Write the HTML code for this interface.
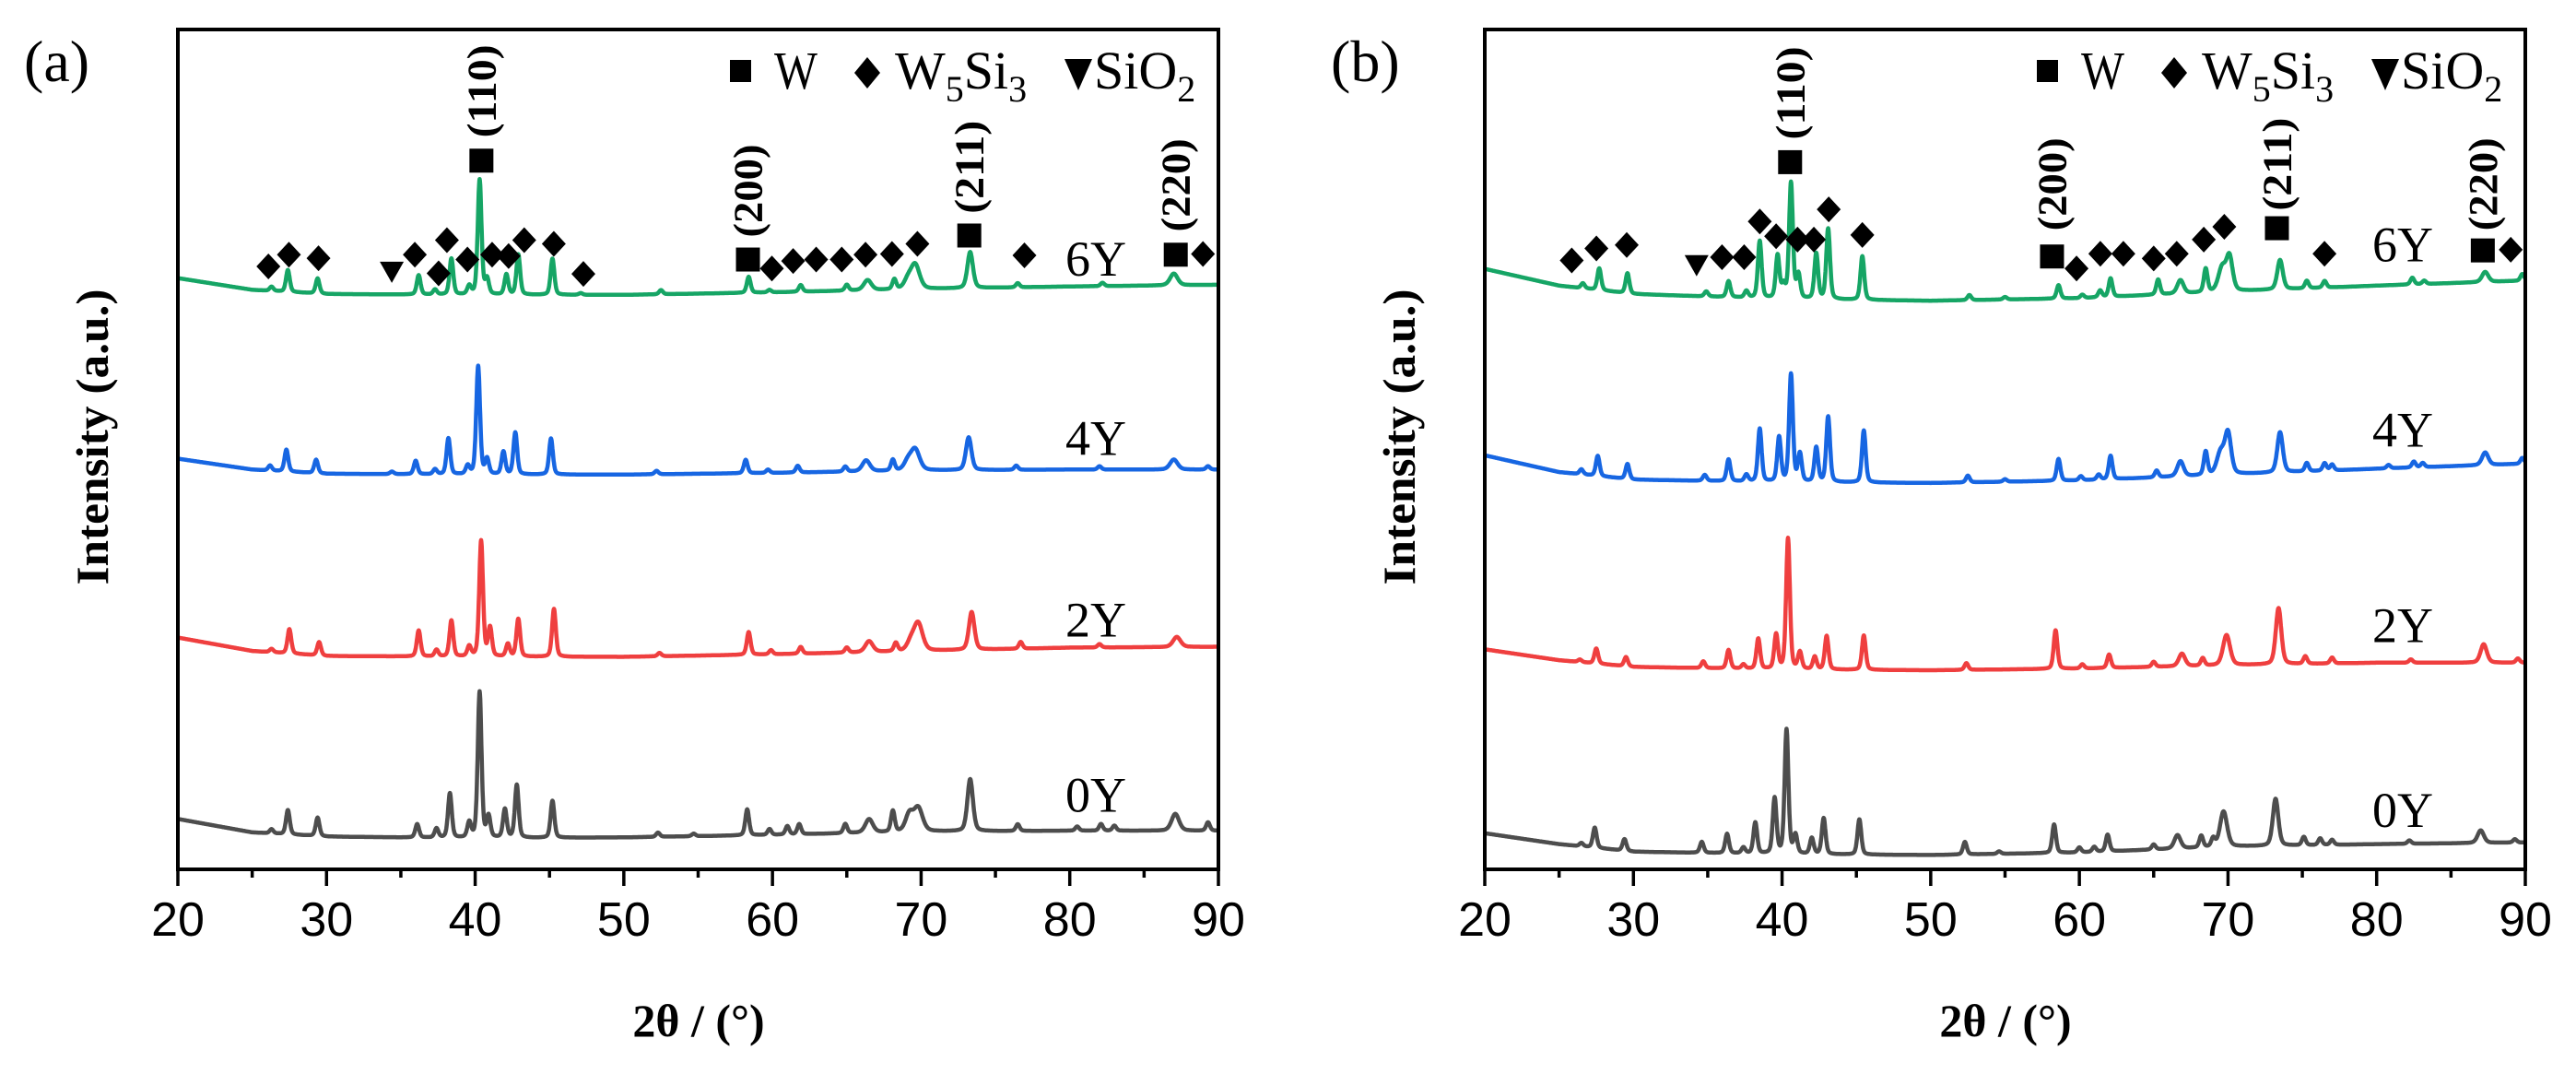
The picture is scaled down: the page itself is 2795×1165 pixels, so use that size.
<!DOCTYPE html>
<html><head><meta charset="utf-8"><style>
html,body{margin:0;padding:0;background:#fff;}
svg{display:block;}
text{font-family:"Liberation Serif",serif;}
.tick{font-family:"Liberation Sans",sans-serif;font-size:52px;}
</style></head><body>
<svg id="fig" width="2795" height="1165" viewBox="0 0 2795 1165"></svg>
<script>
// ---- data ----
const xTicks = [20,30,40,50,60,70,80,90];
const xMinor = [25,35,45,55,65,75,85];
const seriesNames = ["0Y","2Y","4Y","6Y"];
const seriesColors = ["#4d4d4d","#ef3f3f","#1766e2","#16a565"];
const baseX = [20,25,30,40,50,60,70,80,90];
// panel a baselines
const baseA0 = [6.0,4.4,3.9,3.7,3.8,4.1,4.5,4.6,4.6];
const baseA2 = [27.6,26.0,25.4,25.3,25.3,25.6,26.0,26.4,26.5];
const baseA4 = [48.9,47.6,47.1,47.0,47.0,47.2,47.5,47.6,47.6];
const baseA6 = [70.4,69.0,68.5,68.4,68.4,68.7,69.1,69.4,69.6];
// panel b baselines
const baseB0 = [4.3,3.0,2.1,1.8,1.7,2.0,2.7,3.0,3.2];
const baseB2 = [26.2,24.9,24.1,23.8,23.7,23.9,24.3,24.6,24.6];
const baseB4 = [49.3,47.3,46.4,46.1,46.0,46.3,47.0,47.7,48.3];
const baseB6 = [71.5,69.5,68.5,67.9,67.7,68.0,68.8,69.5,70.1];
// peaks [2theta, height, hwhm]
const peaksA0 = [[26.3,0.5],[27.4,2.9],[29.4,2.2],[36.1,1.6],[37.4,1.1],[38.3,5.3],[39.6,1.8],[40.3,17.4],[40.9,2.5],[42.0,3.4],[42.8,6.3],[45.2,4.4],[52.3,0.5],[54.7,0.3],[58.3,3.1],[59.8,0.7],[61.0,1.0],[61.8,1.2],[64.9,1.1],[66.5,1.6,0.3],[68.1,2.5],[69.2,2.0,0.3],[69.8,2.8,0.35],[73.3,6.2,0.22],[76.5,0.8],[80.5,0.5],[82.1,0.8],[83.0,0.6],[87.1,2.0,0.3],[89.3,1.0]];
const peaksA2 = [[26.3,0.4],[27.5,2.9],[29.5,1.6],[36.2,3.1],[37.4,0.8],[38.4,4.3],[39.6,1.2],[40.4,13.8],[41.0,3.4],[42.2,1.5],[42.9,4.5],[45.3,5.7],[52.4,0.4],[58.4,2.7],[59.9,0.5],[61.9,0.8],[65.0,0.6],[66.5,1.3,0.3],[68.3,1.0],[69.3,1.0,0.3],[69.8,3.3,0.35],[73.4,4.5,0.22],[76.7,0.8],[82.0,0.4],[87.2,1.2,0.3]];
const peaksA4 = [[26.2,0.6],[27.3,2.6],[29.3,1.6],[34.4,0.3],[36.0,1.6],[37.3,0.6],[38.2,4.3],[39.5,1.0],[40.2,12.9],[40.8,1.8],[41.9,2.7],[42.7,5.0],[45.1,4.3],[52.2,0.4],[58.2,1.6],[59.7,0.4],[61.7,0.8],[64.9,0.6],[66.3,1.3,0.3],[68.1,1.3],[69.1,1.0,0.3],[69.6,2.5,0.35],[73.2,3.9,0.22],[76.4,0.5],[82.0,0.4],[87.0,1.2,0.3],[89.3,0.4]];
const peaksA6 = [[26.3,0.5],[27.4,2.6],[29.4,1.8],[36.2,2.3],[37.3,0.6],[38.4,4.3],[39.6,1.0],[40.3,13.7],[40.8,1.8],[42.1,2.4],[42.9,4.8],[45.2,4.3],[47.1,0.2],[52.5,0.5],[58.4,1.9],[59.8,0.3],[61.9,0.8],[65.0,0.7],[66.4,1.2,0.3],[68.2,1.2],[69.1,1.0,0.3],[69.6,2.9,0.35],[73.3,4.3,0.22],[76.5,0.5],[82.2,0.4],[87.0,1.4,0.3]];
const peaksB0 = [[26.5,0.4],[27.4,2.4],[29.4,1.4],[34.6,1.3],[36.3,2.3],[37.4,0.7],[38.2,3.7],[39.5,6.6],[40.3,14.8],[40.9,2.2],[42.0,1.9],[42.8,4.3],[45.2,4.2],[52.3,1.5],[54.6,0.3],[58.3,3.4],[60.0,0.6],[61.0,0.6],[61.9,2.0],[65.0,0.6],[66.6,1.6,0.25],[68.2,1.4],[69.0,1.0],[69.7,4.2,0.28],[73.2,5.6,0.22],[75.1,1.0],[76.2,0.8],[77.0,0.6],[82.2,0.4],[87.0,1.5,0.25],[89.3,0.4]];
const peaksB2 = [[26.4,0.3],[27.5,1.8],[29.5,1.1],[34.7,0.8],[36.4,2.2],[37.4,0.5],[38.4,3.6],[39.6,4.1],[40.4,15.6],[41.2,2.0],[42.2,1.5],[43.0,4.0],[45.5,4.1],[52.4,0.8],[58.4,4.6],[60.2,0.5],[62.0,1.6],[65.0,0.6],[66.9,1.5,0.25],[68.3,0.9],[69.9,3.6,0.28],[73.4,6.7,0.22],[75.2,0.9],[77.0,0.7],[82.3,0.4],[87.2,2.2,0.25],[89.5,0.5]];
const peaksB4 = [[26.5,0.6],[27.6,2.4],[29.6,1.8],[34.8,0.7],[36.4,2.6],[37.6,0.8],[38.5,6.3],[39.8,5.3],[40.6,12.8],[41.2,3.3],[42.3,4.1],[43.1,7.8],[45.5,6.2],[52.5,0.8],[55.0,0.3],[58.6,2.6],[60.1,0.5],[61.3,0.6],[62.1,2.8],[65.2,0.8],[66.8,1.8,0.25],[68.5,2.8],[69.5,2.6,0.3],[70.0,4.8,0.25],[73.5,4.8,0.22],[75.3,1.0],[76.5,0.9],[77.0,0.7],[80.8,0.4],[82.5,0.7],[83.1,0.5],[87.3,1.5,0.25],[89.8,0.7]];
const peaksB6 = [[26.6,0.6],[27.7,2.6],[29.6,2.4],[34.9,0.6],[36.4,1.9],[37.6,0.8],[38.5,6.8],[39.7,5.1],[40.1,1.5],[40.6,13.8],[41.1,2.8],[42.3,5.4],[43.1,8.4],[45.4,5.2],[52.6,0.6],[55.0,0.3],[58.6,1.6],[60.2,0.4],[61.4,0.8],[62.1,2.2],[65.3,1.8],[66.8,1.6,0.25],[68.5,2.8],[69.6,2.8,0.3],[70.1,4.0,0.25],[73.5,3.5,0.22],[75.3,0.9],[76.5,0.8],[82.4,0.8],[83.2,0.4],[87.3,1.2,0.25],[89.8,0.8]];
// phase marker positions (2theta) and heights (pixel rows, pre-correction)
const diamondsAx = [26.09,27.47,29.46,35.94,37.54,38.10,39.48,41.14,42.25,43.30,45.29,47.28,59.96,61.39,62.94,64.66,66.26,68.04,69.75,76.95,88.96];
const diamondsAy = [285.6,273.3,277,273.3,292.9,258,278.4,273.3,274.7,258,261.8,293.6,287.8,279.9,278.4,278.4,273.3,272.6,261.8,274,272.6];
const trianglesA = [[34.39,291.4]];
const squaresA = [[40.42,174.2,"(110)",101],[58.35,278.4,"(200)",206],[73.24,253.1,"(211)",181],[87.13,273.3,"(220)",200]];
const diamondsBx = [25.85,27.51,29.55,35.96,37.45,38.50,39.60,41.04,42.14,43.14,45.40,59.81,61.41,62.96,65.00,66.55,68.37,69.75,76.49,89.02];
const diamondsBy = [279.4,266.7,263.1,275.9,275.9,238.3,253.9,257.4,257.4,225.5,252.5,287.9,272.3,272.3,277.3,272.3,257.4,243.9,272.3,268.1];
const trianglesB = [[34.25,284.4]];
const squaresB = [[40.54,175.8,"(110)",103],[58.16,275.2,"(200)",199],[73.29,245.4,"(211)",178],[87.14,268.8,"(220)",199]];
const labelYA = [843,658,467,278];
const labelYB = [859,664,458,263];

// ---- drawing ----
const NS="http://www.w3.org/2000/svg";
const svg=document.getElementById('fig');
function mk(tag,attrs,parent){const e=document.createElementNS(NS,tag);for(const k in attrs)e.setAttribute(k,attrs[k]);(parent||svg).appendChild(e);return e;}
const TOP=32,BOT=943,W=1129;
const fixY=y=>32+(y-36)*1.0294;
function interp(xs,ys,x){for(let i=0;i<xs.length-1;i++){if(x<=xs[i+1]){const t=(x-xs[i])/(xs[i+1]-xs[i]);return ys[i]+t*(ys[i+1]-ys[i]);}}return ys[ys.length-1];}
function intensity(x,base,peaks){let v=interp(baseX,base,x);for(const p of peaks){const w=p[2]||0.15;const d=(x-p[0])/w;v+=p[1]*(0.65*Math.exp(-0.693*d*d)+0.35/(1+d*d));}return v;}

function panel(ox,letter,bases,peaks,dx,dy,tris,sqs,labelY){
  const g=mk('g',{});
  
  
  const xs=x=>ox+(x-20)/70*W;
  const ys=v=>BOT-v/100*(BOT-TOP);
  for(let s=0;s<4;s++){
    let d='';
    for(let i=0;i<=3500;i++){const x=20+i*0.02;const v=intensity(x,bases[s],peaks[s]);d+=(i?'L':'M')+xs(x).toFixed(1)+','+ys(v).toFixed(1);}
    const p=mk('path',{d:d,fill:'none',stroke:seriesColors[s],'stroke-width':4.5,'stroke-linejoin':'round'},g);
    
    
    const t=mk('text',{x:ox+963,y:fixY(labelY[s])+18,'font-size':54},g);
    t.textContent=seriesNames[s];
    
    
  }
  const fr=mk('rect',{x:ox,y:TOP,width:W,height:BOT-TOP,fill:'none',stroke:'#000','stroke-width':4},g);
  
  
  for(const t of xTicks){
    mk('line',{x1:xs(t),x2:xs(t),y1:BOT,y2:BOT+18,stroke:'#000','stroke-width':3.5},g);
    const tx=mk('text',{x:xs(t),y:1015,'text-anchor':'middle',class:'tick'},g);
    tx.textContent=t;
    
    
  }
  for(const t of xMinor){mk('line',{x1:xs(t),x2:xs(t),y1:BOT,y2:BOT+9,stroke:'#000','stroke-width':3.5},g);}
  for(let i=0;i<dx.length;i++){
    const cx=xs(dx[i]),cy=fixY(dy[i]);
    const m=mk('polygon',{points:`${cx},${cy-14} ${cx+13},${cy} ${cx},${cy+14} ${cx-13},${cy}`,fill:'#000'},g);
    
    
  }
  for(const t of tris){
    const cx=xs(t[0]),cy=fixY(t[1]);
    const m=mk('polygon',{points:`${cx-13},${cy-11} ${cx+13},${cy-11} ${cx},${cy+12}`,fill:'#000'},g);
    
    
  }
  for(const q of sqs){
    const cx=xs(q[0]),cy=fixY(q[1]);
    const m=mk('rect',{x:cx-13,y:cy-13,width:26,height:26,fill:'#000'},g);
    
    
    const t=mk('text',{x:0,y:0,'font-size':44,'font-weight':'bold','text-anchor':'middle',textLength:101,lengthAdjust:'spacingAndGlyphs',transform:`translate(${cx+15},${fixY(q[3])}) rotate(-90)`},g);
    t.textContent=q[2];
    
    
  }
  const lg=mk('g',{},g);
  
  
  const bl=96;
  mk('rect',{x:ox+599,y:65,width:23,height:24,fill:'#000'},lg);
  let t=mk('text',{x:ox+647,y:bl,'font-size':58,textLength:47,lengthAdjust:'spacingAndGlyphs'},lg);t.textContent='W';
  
  
  mk('polygon',{points:`${ox+748},62 ${ox+762},79 ${ox+748},96 ${ox+734},79`,fill:'#000'},lg);
  t=mk('text',{x:ox+778,y:bl,'font-size':58},lg);
  t.innerHTML='W<tspan dy="14" font-size="40">5</tspan><tspan dy="-14">Si</tspan><tspan dy="14" font-size="40">3</tspan>';
  
  
  mk('polygon',{points:`${ox+962},64 ${ox+992},64 ${ox+977},98`,fill:'#000'},lg);
  t=mk('text',{x:ox+994,y:bl,'font-size':58},lg);
  t.innerHTML='SiO<tspan dy="14" font-size="40">2</tspan>';
  
  
  t=mk('text',{x:ox+565,y:1124,'font-size':50,'font-weight':'bold','text-anchor':'middle'},g);
  t.textContent='2θ / (°)';
  
  
  t=mk('text',{x:0,y:0,'font-size':50,'font-weight':'bold','text-anchor':'middle',textLength:321,lengthAdjust:'spacingAndGlyphs',transform:`translate(${ox-76},474) rotate(-90)`},g);
  t.textContent='Intensity (a.u.)';
  
  
  t=mk('text',{x:ox-167,y:88,'font-size':64},g);
  t.textContent='('+letter+')';
  
  
}
panel(193,'a',[baseA0,baseA2,baseA4,baseA6],[peaksA0,peaksA2,peaksA4,peaksA6],diamondsAx,diamondsAy,trianglesA,squaresA,labelYA);
panel(1611,'b',[baseB0,baseB2,baseB4,baseB6],[peaksB0,peaksB2,peaksB4,peaksB6],diamondsBx,diamondsBy,trianglesB,squaresB,labelYB);
</script>
</body></html>
